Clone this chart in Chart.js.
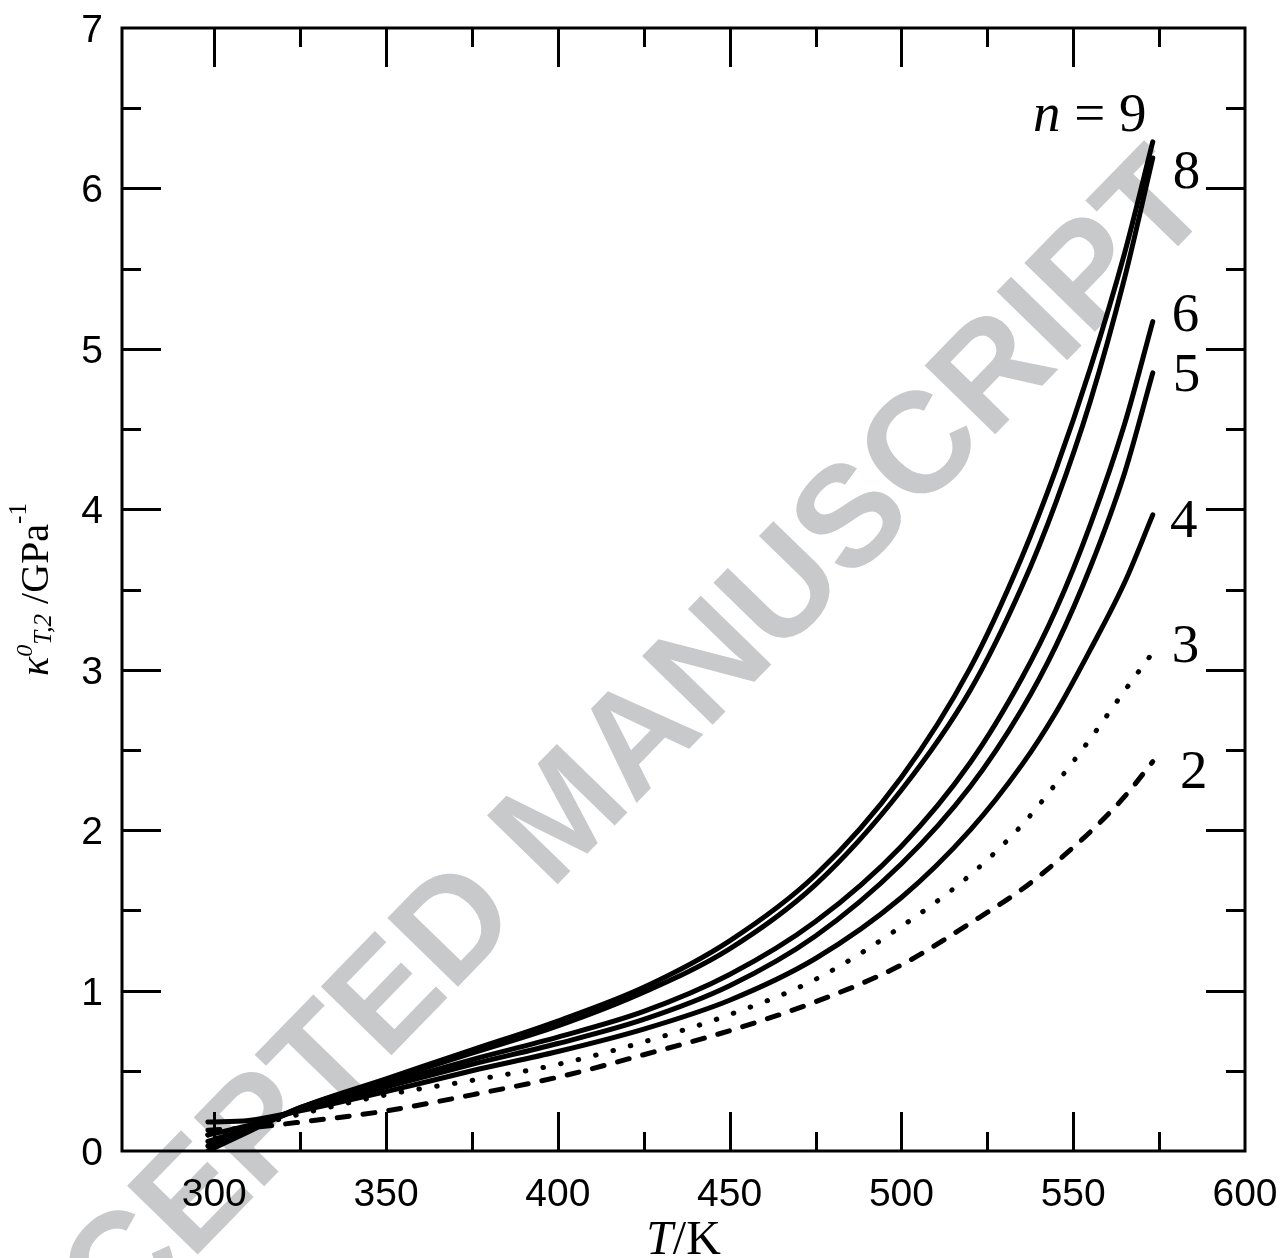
<!DOCTYPE html>
<html>
<head>
<meta charset="utf-8">
<script src="https://cdn.jsdelivr.net/npm/chart.js@4.4.1/dist/chart.umd.min.js"></script>
<style>
  html, body { margin: 0; padding: 0; background: #fff; }
  #wrap { width: 1284px; height: 1258px; }
</style>
</head>
<body>
<div id="wrap"><canvas id="chart" width="1284" height="1258"></canvas></div>
<script>
// Temperatures (K) at which the compressibility curves are tabulated
const temperatures = [298.15, 310, 325, 350, 375, 400, 425, 450, 475, 500, 520, 535, 545, 555, 565, 573.15];

// Isothermal compressibility kappa0_T,2 (GPa^-1) for each chain length n
const kappaN9 = [0.00, 0.12, 0.27, 0.45, 0.63, 0.81, 1.02, 1.31, 1.72, 2.33, 3.01, 3.70, 4.25, 4.88, 5.60, 6.29];
const kappaN8 = [0.03, 0.13, 0.27, 0.44, 0.61, 0.78, 0.99, 1.26, 1.66, 2.25, 2.87, 3.515, 4.045, 4.675, 5.445, 6.19];
const kappaN6 = [0.06, 0.14, 0.26, 0.42, 0.57, 0.71, 0.87, 1.10, 1.43, 1.90, 2.42, 2.945, 3.375, 3.905, 4.535, 5.17];
const kappaN5 = [0.10, 0.16, 0.26, 0.40, 0.54, 0.67, 0.82, 1.03, 1.34, 1.79, 2.27, 2.75, 3.15, 3.64, 4.23, 4.85];
const kappaN4 = [0.18, 0.19, 0.25, 0.37, 0.50, 0.62, 0.76, 0.94, 1.20, 1.58, 2.00, 2.405, 2.735, 3.125, 3.545, 3.965];
const kappaN3 = [0.10, 0.15, 0.23, 0.35, 0.44, 0.54, 0.68, 0.85, 1.07, 1.40, 1.72, 2.03, 2.29, 2.57, 2.87, 3.107];
const kappaN2 = [0.13, 0.145, 0.18, 0.25, 0.35, 0.46, 0.60, 0.75, 0.93, 1.16, 1.42, 1.63, 1.80, 1.99, 2.21, 2.427];

// Axis ticks
const xTicks = [300, 350, 400, 450, 500, 550, 600];
const yTicks = [0, 1, 2, 3, 4, 5, 6, 7];

// Curve names written beside the curve ends
const curveNames = ['9', '8', '6', '5', '4', '3', '2'];

const toPoints = vals => temperatures.map((t, i) => ({ x: t, y: vals[i] }));

// Where each curve name sits (data units: T, kappa)
const nameAnchors = [
  { T: 538.3, k: 6.36, prefix: true },
  { T: 579.0, k: 6.00 },
  { T: 578.7, k: 5.11 },
  { T: 579.0, k: 4.74 },
  { T: 578.2, k: 3.83 },
  { T: 578.7, k: 3.05 },
  { T: 581.1, k: 2.26 }
];

const SERIF = '"Liberation Serif", "Times New Roman", serif';
const SANS = '"Liberation Sans", Arial, sans-serif';

function lineSet(vals, dash) {
  return {
    data: toPoints(vals),
    borderColor: '#000',
    borderWidth: 5,
    borderCapStyle: 'round',
    borderJoinStyle: 'round',
    borderDash: dash || [],
    pointRadius: 0,
    cubicInterpolationMode: 'monotone',
    fill: false
  };
}

// White page plus the diagonal grey stamp behind everything
const backdrop = {
  id: 'backdrop',
  beforeDraw(chart) {
    const ctx = chart.ctx;
    ctx.save();
    ctx.fillStyle = '#fff';
    ctx.fillRect(0, 0, chart.width, chart.height);
    ctx.translate(567, 818);
    ctx.rotate(-45.8 * Math.PI / 180);
    ctx.font = 'bold 143px ' + SANS;
    ctx.fillStyle = 'rgb(200,201,203)';
    ctx.textAlign = 'center';
    ctx.textBaseline = 'middle';
    ctx.fillText('ACCEPTED MANUSCRIPT', 0, 0);
    ctx.restore();
  }
};

// Closed frame, inward major/minor ticks on all four sides, tick numbers
const frame = {
  id: 'frame',
  afterDatasetsDraw(chart) {
    const ctx = chart.ctx;
    const a = chart.chartArea;
    const xs = chart.scales.x, ys = chart.scales.y;
    const major = 39, minor = 19;
    ctx.save();
    ctx.strokeStyle = '#000';
    ctx.lineWidth = 3;
    ctx.lineCap = 'butt';
    ctx.beginPath();
    const xMinor = xTicks.slice(0, -1).map((v, i) => (v + xTicks[i + 1]) / 2);
    const yMinor = yTicks.slice(0, -1).map((v, i) => (v + yTicks[i + 1]) / 2);
    const xMarks = xTicks.map(v => [v, major]).concat(xMinor.map(v => [v, minor]));
    const yMarks = yTicks.map(v => [v, major]).concat(yMinor.map(v => [v, minor]));
    xMarks.forEach(([v, len]) => {
      const px = Math.round(xs.getPixelForValue(v)) + 0.5;
      if (px <= a.left + 1 || px >= a.right - 1) return;
      ctx.moveTo(px, a.bottom); ctx.lineTo(px, a.bottom - len);
      ctx.moveTo(px, a.top); ctx.lineTo(px, a.top + len);
    });
    yMarks.forEach(([v, len]) => {
      const py = Math.round(ys.getPixelForValue(v)) + 0.5;
      if (py <= a.top + 1 || py >= a.bottom - 1) return;
      ctx.moveTo(a.left, py); ctx.lineTo(a.left + len, py);
      ctx.moveTo(a.right, py); ctx.lineTo(a.right - len, py);
    });
    ctx.stroke();
    ctx.strokeRect(a.left, a.top, a.right - a.left, a.bottom - a.top);

    // tick numbers
    ctx.fillStyle = '#000';
    ctx.font = '39px ' + SANS;
    ctx.textBaseline = 'alphabetic';
    ctx.textAlign = 'center';
    xTicks.forEach(v => ctx.fillText(String(v), xs.getPixelForValue(v), a.bottom + 55));
    ctx.textAlign = 'right';
    yTicks.forEach(v => ctx.fillText(String(v), a.left - 19, ys.getPixelForValue(v) + 14));
    ctx.restore();
  }
};

// Draws a run of text pieces with their own fonts and baseline shifts
function richWidth(ctx, parts) {
  return parts.reduce((w, p) => { ctx.font = p.font; return w + ctx.measureText(p.t).width; }, 0);
}
function drawRich(ctx, parts, x, y) {
  let cx = x;
  parts.forEach(p => {
    ctx.font = p.font;
    ctx.fillText(p.t, cx, y + (p.dy || 0));
    cx += ctx.measureText(p.t).width;
  });
}

// Axis titles and the curve names
const annotations = {
  id: 'annotations',
  afterDraw(chart) {
    const ctx = chart.ctx;
    const a = chart.chartArea;
    const xs = chart.scales.x, ys = chart.scales.y;
    ctx.save();
    ctx.fillStyle = '#000';
    ctx.textBaseline = 'alphabetic';
    ctx.textAlign = 'left';

    // x title: T/K
    const xt = [
      { t: 'T', font: 'italic 48px ' + SERIF },
      { t: '/K', font: '48px ' + SERIF }
    ];
    const xw = richWidth(ctx, xt);
    drawRich(ctx, xt, (a.left + a.right) / 2 - xw / 2, 1254);

    // y title: kappa^0_{T,2} /GPa^-1
    const yt = [
      { t: 'κ', font: 'italic 40px ' + SERIF },
      { t: '0', font: 'italic 24px ' + SERIF, dy: -16 },
      { t: 'T,2', font: 'italic 25px ' + SERIF, dy: 3 },
      { t: ' /GPa', font: '40px ' + SERIF },
      { t: '-1', font: '25px ' + SERIF, dy: -22 }
    ];
    const yw = richWidth(ctx, yt);
    ctx.save();
    ctx.translate(48, (a.top + a.bottom) / 2);
    ctx.rotate(-Math.PI / 2);
    drawRich(ctx, yt, -yw / 2, 0);
    ctx.restore();

    // curve names
    curveNames.forEach((name, i) => {
      const an = nameAnchors[i];
      const px = xs.getPixelForValue(an.T);
      const py = ys.getPixelForValue(an.k);
      if (an.prefix) {
        drawRich(ctx, [
          { t: 'n', font: 'italic 55px ' + SERIF },
          { t: ' = ' + name, font: '55px ' + SERIF }
        ], px, py);
      } else {
        ctx.font = '55px ' + SERIF;
        ctx.fillText(name, px, py);
      }
    });
    ctx.restore();
  }
};

new Chart(document.getElementById('chart'), {
  type: 'line',
  data: {
    datasets: [
      lineSet(kappaN9),
      lineSet(kappaN8),
      lineSet(kappaN6),
      lineSet(kappaN5),
      lineSet(kappaN4),
      lineSet(kappaN3, [0.5, 17.5]),
      lineSet(kappaN2, [12, 14])
    ]
  },
  options: {
    responsive: false,
    devicePixelRatio: 1,
    animation: false,
    events: [],
    layout: { padding: { top: 28, right: 39, left: 0, bottom: 0 } },
    plugins: { legend: { display: false }, tooltip: { enabled: false } },
    scales: {
      x: {
        type: 'linear',
        min: 273.15,
        max: 600,
        grid: { display: false, drawTicks: false },
        border: { display: false },
        ticks: { display: false },
        afterBuildTicks: s => { s.ticks = xTicks.map(v => ({ value: v })); },
        afterFit: s => { s.height = 107; }
      },
      y: {
        type: 'linear',
        min: 0,
        max: 7,
        grid: { display: false, drawTicks: false },
        border: { display: false },
        ticks: { display: false },
        afterBuildTicks: s => { s.ticks = yTicks.map(v => ({ value: v })); },
        afterFit: s => { s.width = 122; }
      }
    }
  },
  plugins: [backdrop, frame, annotations]
});
</script>
</body>
</html>
